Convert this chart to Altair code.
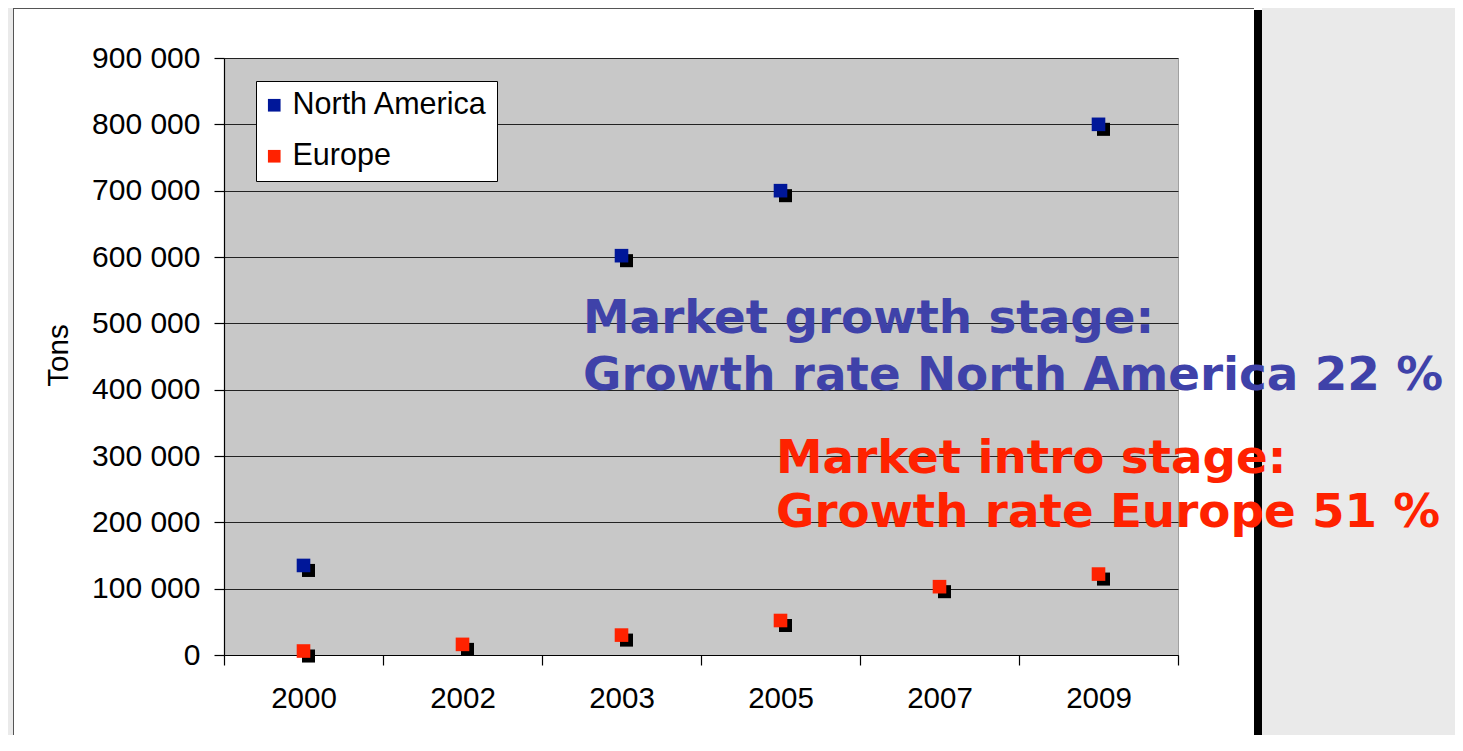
import altair as alt
import pandas as pd

years = ["2000", "2002", "2003", "2005", "2007", "2009"]
north_america = [135000, None, 602000, 700000, None, 800000]
europe = [6000, 16000, 30000, 52000, 103000, 122000]
regions = ["North America", "Europe"]
region_colors = ["#001799", "#ff2200"]
y_ticks = [0, 100000, 200000, 300000, 400000, 500000, 600000, 700000, 800000, 900000]

rows = []
for yr, v in zip(years, north_america):
    if v is not None:
        rows.append({"Year": yr, "Region": "North America", "Tons": v})
for yr, v in zip(years, europe):
    if v is not None:
        rows.append({"Year": yr, "Region": "Europe", "Tons": v})
df = pd.DataFrame(rows)

AX_FONT = "Liberation Sans"

x_enc = alt.X(
    "Year:N",
    sort=years,
    scale=alt.Scale(type="band", paddingInner=0, paddingOuter=0),
    axis=alt.Axis(
        title=None, labelAngle=0, tickBand="extent", tickSize=10, tickWidth=1.2,
        tickColor="black", domainColor="black", domainWidth=1.2, grid=False,
        labelFont=AX_FONT, labelFontSize=29.5, labelColor="black", labelPadding=19,
    ),
)
y_enc = alt.Y(
    "Tons:Q",
    scale=alt.Scale(domain=[0, 900000], nice=False, zero=True),
    axis=alt.Axis(
        values=y_ticks, grid=True, gridColor="#222222", gridWidth=1.2,
        tickSize=10, tickWidth=1.2, tickColor="black", domainColor="black", domainWidth=1.2,
        labelFont=AX_FONT, labelFontSize=30, labelColor="black", labelPadding=14,
        labelExpr="replace(format(datum.value, ','), ',', ' ')",
        title="Tons", titleFont=AX_FONT, titleFontSize=29.5, titleFontWeight="normal",
        titleColor="black", titleX=-157, titleY=297, titleBaseline="alphabetic",
    ),
)

one = alt.Data(values=[{"k": 1}])

def deco_rect(x1, x2, y1, y2, color):
    return alt.Chart(one).mark_rect(color=color, opacity=1).encode(
        x=alt.value(x1), x2=alt.value(x2), y=alt.value(y1), y2=alt.value(y2)
    )

right_gray = deco_rect(1038, 1245, -60, 700, "#eaeaea")
left_gray = deco_rect(-220, -211, -60, 700, "#eaeaea")
black_bar = deco_rect(1030, 1038, -48, 700, "black")
left_border = deco_rect(-211, -210, -50, 700, "#555555")
top_border = deco_rect(-211, 1030, -50, -49, "#555555")

shadow = alt.Chart(df).mark_square(
    size=170, color="black", opacity=1, xOffset=5, yOffset=5
).encode(x=x_enc, y=y_enc)

points = alt.Chart(df).mark_square(size=185, opacity=1).encode(
    x=x_enc,
    y=y_enc,
    color=alt.Color(
        "Region:N",
        scale=alt.Scale(domain=regions, range=region_colors),
        legend=alt.Legend(
            orient="none", legendX=32, legendY=23, title=None, direction="vertical",
            padding=9, fillColor="white", strokeColor="black", symbolType="square",
            symbolSize=160, symbolStrokeWidth=0, symbolOffset=-6,
            labelFont=AX_FONT, labelFontSize=30.5, labelColor="black", labelOffset=3,
            labelLimit=0, rowPadding=20, cornerRadius=0,
        ),
    ),
)

def note(text, x, y, color):
    return alt.Chart(one).mark_text(
        align="left", baseline="alphabetic", font="DejaVu Sans", fontWeight="bold",
        fontSize=46.8, color=color,
    ).encode(x=alt.value(x), y=alt.value(y), text=alt.value(text))

BLUE_TXT = "#3f42a9"
RED_TXT = "#ff2200"
notes = [
    note("Market growth stage:", 359, 275, BLUE_TXT),
    note("Growth rate North America 22 %", 359, 332, BLUE_TXT),
    note("Market intro stage:", 552, 415, RED_TXT),
    note("Growth rate Europe 51 %", 552, 469, RED_TXT),
]

chart = alt.layer(
    right_gray, left_gray, black_bar, left_border, top_border, shadow, points, *notes
).properties(
    width=954, height=597,
    autosize=alt.AutoSizeParams(type="none"),
    padding={"left": 216, "top": 50, "right": 277, "bottom": 80},
    background="white",
).configure_view(
    fill="#c8c8c8", stroke="#a0a0a0", strokeWidth=1
)

chart.save("out.html", embed_options={"renderer": "svg", "actions": False})
